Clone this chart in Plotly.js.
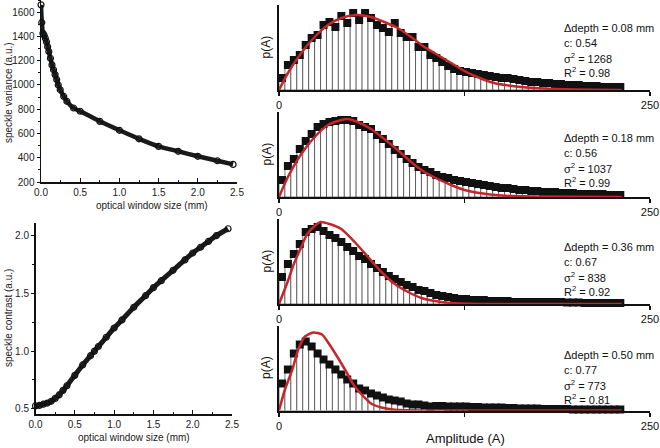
<!DOCTYPE html>
<html>
<head>
<meta charset="utf-8">
<script src="https://cdn.plot.ly/plotly-3.0.1.min.js"></script>
<style>html,body{margin:0;padding:0;background:#fff;}#chart{width:660px;height:448px;}</style>
</head>
<body>
<div id="chart"></div>
<script>
// ---- Left panels: speckle variance / contrast vs optical window size ----
const varWindow = [0.000,0.010,0.025,0.040,0.055,0.070,0.085,0.100,0.120,0.140,0.160,0.180,0.200,0.220,0.245,0.290,0.330,0.415,0.500,0.750,1.000,1.250,1.500,1.750,2.000,2.250,2.450];
const varValues = [1660,1515,1425,1410,1385,1355,1315,1275,1220,1165,1125,1085,1045,1000,960,905,865,810,783,700,626,556,494,453,412,375,345];

const conWindow = [0.00,0.05,0.10,0.15,0.20,0.25,0.30,0.35,0.40,0.50,0.60,0.70,0.75,0.80,0.90,1.00,1.10,1.25,1.40,1.50,1.60,1.75,1.90,2.00,2.10,2.20,2.30,2.45];
const conValues = [0.525,0.53,0.54,0.55,0.565,0.59,0.62,0.66,0.70,0.79,0.88,0.96,1.00,1.04,1.12,1.20,1.27,1.38,1.48,1.55,1.61,1.70,1.79,1.85,1.90,1.95,2.00,2.06];

// ---- Right panels: amplitude histograms ----
const binCenters = [2,6,10,14,18,22,26,30,34,38,42,46,50,54,58,62,66,70,74,78,82,86,90,94,98,102,106,110,114,118,122,126,130,134,138,142,146,150,154,158,162,166,170,174,178,182,186,190,194,198,202,206,210,214,218,222,226,230];

const hist1 = [12,25,30,35,45,52,55,65,68,63,74,67,77,70,77,72,65,62,58,67,57,53,53,43,43,35,32,28,24,21,19,18,17,16,15,14,13,12,12,11,10,9,8,8,7,7,6,6,5,5,5,4,4,4,3,3,3,3];
const hist2 = [17,31,38,48,56,63,70,73,75,76,77,77,76,72,70,68,62,58,53,47,43,38,34,30,27,25,22,20,19,17,16,15,14,13,12,11,10,9,9,8,7,7,6,6,5,5,5,4,4,4,3,3,3,3,3,2,2,2];
const hist3 = [27,40,50,60,72,75,77,73,69,66,62,57,53,48,45,40,36,32,28,25,22,19,17,14,13,11,9,8,7,6,5,5,4,4,4,3,3,3,3,2,2,2,2,2,2,2,2,2,1.5,1.5,1.5,1,1,1,1,1,1,1];
const hist4 = [27,41,57,66,69,64,57,51,46,41,36,31,27,22,20,17,15,13,11,10,9,7,6,6,5,4,4.5,4.5,4,4,4,4,3.5,3.5,3,3,3,3,2.5,2.5,2,2,2,2,1.5,1.5,1.5,1.5,1.5,1,1,1,1,1,1,1,1,1];

const fit1X = [0,6,15,24,33,42,52,62,71,80,89,98,107,116,125,132,145,163,186,231];
const fit1Y = [0,17,37,53,65,72,75,73,68,62,53,43,35,27,19,14,7,3,1,0];
const fit2X = [0,6,15,24,33,42,46,53,62,71,80,89,98,107,116,125,135,150,170,231];
const fit2Y = [0,20,43,60,72,77,78,75,68,58,47,35,25,18,12,7,4,1.5,0.5,0];
const fit3X = [0,6,10,15,19,24,28,34,42,51,60,69,78,87,96,105,116,140,231];
const fit3Y = [0,23,40,57,70,78,82,80,75,62,47,32,20,12,6,3,1,0,0];
const fit4X = [0,4,9,13,17.5,23,29,34,40,46,51,57,62,69,78,100,231];
const fit4Y = [0,21,41,61,74,78,76,66,52,37,24,14,7,3,0.7,0,0];

const depthLabels = ["\u0394depth = 0.08 mm","\u0394depth = 0.18 mm","\u0394depth = 0.36 mm","\u0394depth = 0.50 mm"];
const cLabels = ["c: 0.54","c: 0.56","c: 0.67","c: 0.77"];
const sigmaLabels = ["1268","1037","838","773"];
const r2Labels = ["0.98","0.99","0.92","0.81"];

const xTickVals = [0,125,250];
const xTickText = ["0"," ","250"];

// ---- build ----
const W = 660, H = 448;
const px = v => v / W;
const py = v => 1 - v / H;
const FONT = "Arial, 'Liberation Sans', sans-serif";

const hists = [hist1,hist2,hist3,hist4];
const fitsX = [fit1X,fit2X,fit3X,fit4X];
const fitsY = [fit1Y,fit2Y,fit3Y,fit4Y];
// panel pixel positions (axis line y, top y)
const panelPx = [[90,5],[197,112],[304,219],[410.5,325.5]];

const traces = [];
traces.push({x: varWindow, y: varValues, xaxis:'x', yaxis:'y', type:'scatter', mode:'lines+markers',
  line:{color:'#1a1a1a', width:4.5, shape:'spline', smoothing:0.6},
  marker:{symbol:'circle-open', size:6, color:'#111', line:{width:1.2}}, cliponaxis:false, hoverinfo:'skip'});
traces.push({x: conWindow, y: conValues, xaxis:'x2', yaxis:'y2', type:'scatter', mode:'lines+markers',
  line:{color:'#1a1a1a', width:5, shape:'spline', smoothing:0.6},
  marker:{symbol:'circle-open', size:6, color:'#111', line:{width:1.2}}, cliponaxis:false, hoverinfo:'skip'});

const leftX = (dom, ya) => ({domain:dom, range:[0,2.5], anchor:ya, showline:true, linecolor:'#111', linewidth:1.5,
    ticks:'inside', ticklen:4, tickwidth:1, tickcolor:'#111', dtick:0.5, tick0:0, tickformat:'.1f',
    tickfont:{size:10, color:'#222'}, showgrid:false, zeroline:false,
    minor:{dtick:0.25, ticks:'inside', ticklen:2, tickcolor:'#111', showgrid:false}});

const layout = {
  width: W, height: H, margin:{l:0,r:0,t:0,b:0}, paper_bgcolor:'#fff', plot_bgcolor:'rgba(0,0,0,0)',
  showlegend:false, bargap:0, font:{family:FONT, color:'#111'},
  xaxis: leftX([px(41),px(237)], 'y'),
  yaxis:{domain:[py(182),1], range:[200,1700], anchor:'x', showline:true, linecolor:'#111', linewidth:1.5,
    ticks:'outside', ticklen:3, tickwidth:1, tickcolor:'#111', dtick:200, tick0:200,
    tickfont:{size:10, color:'#222'}, showgrid:false, zeroline:false,
    minor:{dtick:100, ticks:'outside', ticklen:2, tickcolor:'#111', showgrid:false}},
  xaxis2: leftX([px(35.5),px(232)], 'y2'),
  yaxis2:{domain:[py(414),py(223)], range:[0.455,2.11], anchor:'x2', showline:true, linecolor:'#111', linewidth:1.5,
    ticks:'outside', ticklen:3, tickwidth:1, tickcolor:'#111', dtick:0.5, tick0:0.5, tickformat:'.1f',
    tickfont:{size:10, color:'#222'}, showgrid:false, zeroline:false,
    minor:{dtick:0.25, ticks:'outside', ticklen:2, tickcolor:'#111', showgrid:false}},
  annotations:[], 
};

hists.forEach((h,i)=>{
  const n = i+3;
  const xa = 'x'+n, ya = 'y'+n;
  traces.push({x: binCenters, y: h, xaxis:xa, yaxis:ya, type:'bar', width:4,
    marker:{color:'#fff', line:{color:'#222', width:0.6}}, hoverinfo:'skip'});
  traces.push({x: binCenters, y: h, xaxis:xa, yaxis:ya, type:'scatter', mode:'markers',
    marker:{symbol:'square', size:8, color:'#111', line:{width:0}}, cliponaxis:false, hoverinfo:'skip'});
  traces.push({x: fitsX[i], y: fitsY[i], xaxis:xa, yaxis:ya, type:'scatter', mode:'lines',
    line:{color:'#c4262c', width:2.5, shape:'spline', smoothing:0.6}, cliponaxis:false, hoverinfo:'skip'});
  const [axY, topY] = panelPx[i];
  layout['xaxis'+n] = {domain:[px(279),px(650)], range:[0,250], anchor:ya, showline:true, linecolor:'#111', linewidth:2,
    ticks:'outside', ticklen:4, tickwidth:1.5, tickcolor:'#111', tickvals:xTickVals, ticktext:xTickText,
    tickfont:{size:11, color:'#111'}, showgrid:false, zeroline:false};
  layout['yaxis'+n] = {domain:[py(axY),py(topY)], range:[0,85], anchor:xa, showline:true, linecolor:'#111', linewidth:2,
    ticks:'', showticklabels:false, showgrid:false, zeroline:false};
  const lines = [depthLabels[i], cLabels[i], '\u03c3<sup>2</sup> = '+sigmaLabels[i], 'R<sup>2</sup> = '+r2Labels[i]];
  const startY = [28,138,247,355][i];
  lines.forEach((t,j)=>{
    layout.annotations.push({xref:'paper', yref:'paper', x:px(562), y:py(startY + j*14.8), xanchor:'left', yanchor:'middle',
      text:t, showarrow:false, font:{size:11, color:'#111', family:FONT}});
  });
  layout.annotations.push({xref:'paper', yref:'paper', x:px(266), y:py((axY+topY)/2), xanchor:'center', yanchor:'middle',
    text:'p(A)', textangle:-90, showarrow:false, font:{size:12, color:'#111', family:FONT}});
});

layout.annotations.push({xref:'paper', yref:'paper', x:px(465), y:py(438), xanchor:'center', yanchor:'middle',
  text:'Amplitude (A)', showarrow:false, font:{size:13, color:'#111', family:FONT}});
layout.annotations.push({xref:'paper', yref:'paper', x:px(152), y:py(205), xanchor:'center', yanchor:'middle',
  text:'optical window size (mm)', showarrow:false, font:{size:10, color:'#222', family:FONT}});
layout.annotations.push({xref:'paper', yref:'paper', x:px(134), y:py(437), xanchor:'center', yanchor:'middle',
  text:'optical window size (mm)', showarrow:false, font:{size:10, color:'#222', family:FONT}});
layout.annotations.push({xref:'paper', yref:'paper', x:px(8), y:py(93), xanchor:'center', yanchor:'middle',
  text:'speckle variance (a.u.)', textangle:-90, showarrow:false, font:{size:10, color:'#222', family:FONT}});
layout.annotations.push({xref:'paper', yref:'paper', x:px(8), y:py(318), xanchor:'center', yanchor:'middle',
  text:'speckle contrast (a.u.)', textangle:-90, showarrow:false, font:{size:10, color:'#222', family:FONT}});

Plotly.newPlot('chart', traces, layout, {staticPlot:true, displayModeBar:false});
</script>
</body>
</html>
